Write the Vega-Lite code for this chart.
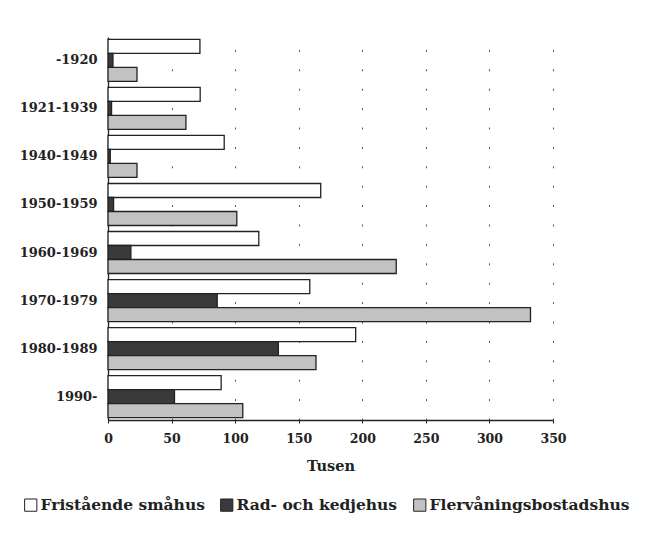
{
  "$schema": "https://vega.github.io/schema/vega-lite/v6.json",
  "width": 445,
  "height": 383,
  "autosize": {"type": "none"},
  "padding": {"left": 108, "top": 37, "right": 94, "bottom": 116},
  "background": "white",
  "data": {
    "values": [
      {"period": "-1920", "type": "Fristående småhus", "value": 72.3},
      {"period": "-1920", "type": "Rad- och kedjehus", "value": 3.9},
      {"period": "-1920", "type": "Flervåningsbostadshus", "value": 22.8},
      {"period": "1921-1939", "type": "Fristående småhus", "value": 72.5},
      {"period": "1921-1939", "type": "Rad- och kedjehus", "value": 2.8},
      {"period": "1921-1939", "type": "Flervåningsbostadshus", "value": 61.3},
      {"period": "1940-1949", "type": "Fristående småhus", "value": 91.4},
      {"period": "1940-1949", "type": "Rad- och kedjehus", "value": 1.8},
      {"period": "1940-1949", "type": "Flervåningsbostadshus", "value": 22.8},
      {"period": "1950-1959", "type": "Fristående småhus", "value": 167.3},
      {"period": "1950-1959", "type": "Rad- och kedjehus", "value": 4.4},
      {"period": "1950-1959", "type": "Flervåningsbostadshus", "value": 101.3},
      {"period": "1960-1969", "type": "Fristående småhus", "value": 118.6},
      {"period": "1960-1969", "type": "Rad- och kedjehus", "value": 18},
      {"period": "1960-1969", "type": "Flervåningsbostadshus", "value": 226.7},
      {"period": "1970-1979", "type": "Fristående småhus", "value": 158.7},
      {"period": "1970-1979", "type": "Rad- och kedjehus", "value": 85.9},
      {"period": "1970-1979", "type": "Flervåningsbostadshus", "value": 332.3},
      {"period": "1980-1989", "type": "Fristående småhus", "value": 194.8},
      {"period": "1980-1989", "type": "Rad- och kedjehus", "value": 134},
      {"period": "1980-1989", "type": "Flervåningsbostadshus", "value": 163.6},
      {"period": "1990-", "type": "Fristående småhus", "value": 89},
      {"period": "1990-", "type": "Rad- och kedjehus", "value": 52.3},
      {"period": "1990-", "type": "Flervåningsbostadshus", "value": 106}
    ]
  },
  "mark": {"type": "bar", "stroke": "#222222", "strokeWidth": 1.3, "cornerRadius": 0},
  "encoding": {
    "y": {
      "field": "period",
      "type": "nominal",
      "sort": null,
      "scale": {"paddingInner": 0.125, "paddingOuter": 0.05},
      "axis": {
        "title": null,
        "ticks": false,
        "domainColor": "#222222",
        "domainWidth": 1.3,
        "labelFont": "DejaVu Serif",
        "labelFontWeight": "bold",
        "labelFontSize": 13,
        "labelColor": "#222222",
        "labelPadding": 11
      }
    },
    "yOffset": {
      "field": "type",
      "type": "nominal",
      "sort": ["Fristående småhus", "Rad- och kedjehus", "Flervåningsbostadshus"],
      "scale": {"paddingInner": 0, "paddingOuter": 0}
    },
    "x": {
      "field": "value",
      "type": "quantitative",
      "scale": {"domain": [0, 350], "nice": false},
      "axis": {
        "title": "Tusen",
        "values": [0, 50, 100, 150, 200, 250, 300, 350],
        "grid": true,
        "gridDash": [2, 17.4],
        "gridColor": "#555555",
        "gridWidth": 1,
        "domainColor": "#222222",
        "domainWidth": 1.3,
        "tickColor": "#222222",
        "tickSize": 3,
        "labelFlush": false,
        "labelFont": "DejaVu Serif",
        "labelFontWeight": "bold",
        "labelFontSize": 12.5,
        "labelColor": "#222222",
        "labelPadding": 9,
        "titleFont": "DejaVu Serif",
        "titleFontWeight": "bold",
        "titleFontSize": 14.5,
        "titleColor": "#222222",
        "titlePadding": 15
      }
    },
    "color": {
      "field": "type",
      "type": "nominal",
      "sort": ["Fristående småhus", "Rad- och kedjehus", "Flervåningsbostadshus"],
      "scale": {
        "domain": ["Fristående småhus", "Rad- och kedjehus", "Flervåningsbostadshus"],
        "range": ["#ffffff", "#3a3a3a", "#c2c2c2"]
      },
      "legend": {
        "title": null,
        "orient": "none",
        "direction": "horizontal",
        "legendX": -85,
        "legendY": 460,
        "symbolType": "square",
        "symbolSize": 150,
        "symbolStrokeColor": "#222222",
        "symbolStrokeWidth": 1,
        "symbolOpacity": 1,
        "labelFont": "DejaVu Serif",
        "labelFontWeight": "bold",
        "labelFontSize": 15.5,
        "labelColor": "#222222",
        "labelOffset": 2,
        "columnPadding": 13,
        "labelLimit": 400
      }
    }
  },
  "config": {
    "view": {"stroke": null}
  }
}
